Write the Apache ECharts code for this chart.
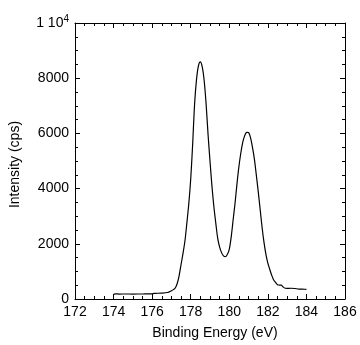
<!DOCTYPE html>
<html>
<head>
<meta charset="utf-8">
<script src="https://cdn.jsdelivr.net/npm/echarts@6/dist/echarts.min.js"></script>
<style>
  html, body { margin: 0; padding: 0; background: #fff; }
  #chart { width: 360px; height: 345px; }
</style>
</head>
<body>
<div id="chart"></div>
<script>
// binding energy (eV) and intensity (cps)
var energy = [174.0, 174.1, 174.3, 174.6, 175.0, 175.5, 176.0, 176.1, 176.5, 176.8,
  177.0, 177.1, 177.2, 177.3, 177.4, 177.5, 177.6, 177.7, 177.8, 177.9,
  178.0, 178.1, 178.2, 178.3, 178.4, 178.5, 178.6, 178.7, 178.8, 178.9,
  179.0, 179.1, 179.2, 179.3, 179.4, 179.5, 179.6, 179.7, 179.8, 179.9,
  180.0, 180.1, 180.2, 180.3, 180.4, 180.5, 180.6, 180.7, 180.8, 180.9,
  181.0, 181.1, 181.2, 181.3, 181.4, 181.5, 181.6, 181.7, 181.8, 181.9,
  182.0, 182.1, 182.2, 182.3, 182.4, 182.5, 182.6, 182.7, 182.8, 182.9,
  183.0, 183.2, 183.4, 183.6, 183.8, 184.0];
var intensity = [170, 185, 180, 182, 180, 182, 185, 205, 212, 235,
  300, 340, 400, 560, 850, 1250, 1650, 2100, 2750, 3450,
  4350, 5600, 7050, 7950, 8450, 8590, 8400, 7900, 7050, 5950,
  5000, 4100, 3350, 2750, 2200, 1880, 1680, 1560, 1530, 1620,
  1800, 2250, 2870, 3480, 4180, 4800, 5300, 5680, 5920, 6040,
  6030, 5850, 5500, 5080, 4500, 3900, 3250, 2600, 2050, 1620,
  1300, 1070, 860, 690, 600, 520, 505, 500, 430, 390,
  385, 390, 380, 360, 355, 350];

var xTicks = { min: 172, max: 186, interval: 2 };
var yTicks = { min: 0, max: 10000, interval: 2000 };

var points = energy.map(function (e, i) { return [e, intensity[i]]; });

var font = "Liberation Sans, Arial, sans-serif";

// fresh style objects for each axis
function axisLine() {
  return { show: true, onZero: false, lineStyle: { color: "#000", width: 1 } };
}
function tick() {
  return { show: true, inside: true, length: 5, lineStyle: { color: "#000", width: 1 } };
}
function minor() {
  return { show: true, splitNumber: 4, length: 3, lineStyle: { color: "#000", width: 1 } };
}

var myChart = echarts.init(document.getElementById("chart"));
myChart.setOption({
  backgroundColor: "#fff",
  animation: false,
  grid: { left: 69, right: 15, top: 23, bottom: 46 },
  xAxis: [
    {
      type: "value",
      min: xTicks.min,
      max: xTicks.max,
      interval: xTicks.interval,
      name: "Binding Energy (eV)",
      nameLocation: "middle",
      nameGap: 27,
      nameTextStyle: { color: "#000", fontSize: 14, fontFamily: font, padding: [0, 0, 0, 10] },
      axisLine: axisLine(),
      axisTick: tick(),
      minorTick: minor(),
      splitLine: { show: false },
      axisLabel: { color: "#000", fontSize: 14, fontFamily: font, margin: 6 }
    },
    {
      type: "value",
      position: "top",
      min: xTicks.min,
      max: xTicks.max,
      interval: xTicks.interval,
      axisLine: axisLine(),
      axisTick: tick(),
      minorTick: minor(),
      splitLine: { show: false },
      axisLabel: { show: false }
    }
  ],
  yAxis: [
    {
      type: "value",
      min: yTicks.min,
      max: yTicks.max,
      interval: yTicks.interval,
      name: "Intensity (cps)",
      nameLocation: "middle",
      nameGap: 53,
      nameTextStyle: { color: "#000", fontSize: 14, fontFamily: font, padding: [0, 7, 0, 0] },
      axisLine: axisLine(),
      axisTick: tick(),
      minorTick: minor(),
      splitLine: { show: false },
      axisLabel: {
        color: "#000",
        fontSize: 14,
        fontFamily: font,
        margin: 6,
        formatter: function (v) {
          return v === 10000 ? "1 10{sup|4}" : String(v);
        },
        rich: {
          sup: { fontSize: 10, fontFamily: font, color: "#000", verticalAlign: "top", padding: [0, 0, 8, 0] }
        }
      }
    },
    {
      type: "value",
      position: "right",
      min: yTicks.min,
      max: yTicks.max,
      interval: yTicks.interval,
      axisLine: axisLine(),
      axisTick: tick(),
      minorTick: minor(),
      splitLine: { show: false },
      axisLabel: { show: false }
    }
  ],
  series: [
    {
      type: "line",
      data: points,
      showSymbol: false,
      smooth: 0.3,
      lineStyle: { color: "#000", width: 1.2 }
    }
  ]
});
</script>
</body>
</html>
